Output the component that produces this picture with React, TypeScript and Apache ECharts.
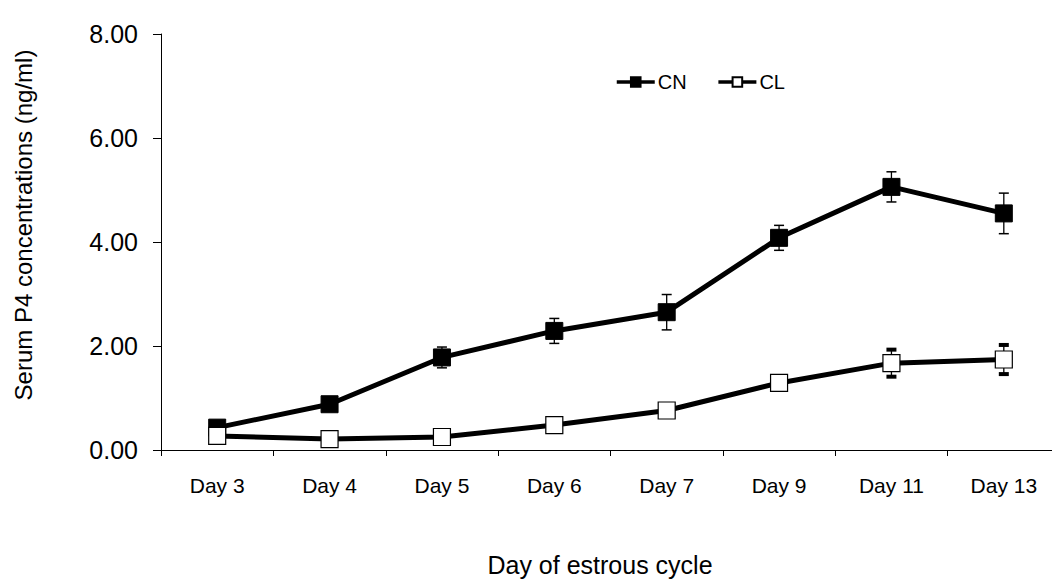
import React, { useEffect, useRef } from "react";
import * as echarts from "echarts";

const categories = ["Day 3", "Day 4", "Day 5", "Day 6", "Day 7", "Day 9", "Day 11", "Day 13"];
const cnMean = [0.43, 0.88, 1.78, 2.29, 2.65, 4.08, 5.06, 4.55];
const cnErr = [0.06, 0.08, 0.2, 0.24, 0.34, 0.24, 0.29, 0.39];
const clMean = [0.27, 0.21, 0.25, 0.48, 0.76, 1.29, 1.67, 1.74];
const clErr = [0.05, 0.05, 0.05, 0.06, 0.06, 0.1, 0.26, 0.28];
const yTicks = [0, 2, 4, 6, 8];

const FONT = "'Liberation Sans', Arial, sans-serif";

function errData(mean: number[], err: number[]) {
  return mean.map((m, i) => [i, m - err[i], m + err[i]]);
}

function makeErrRender(capLw: number) {
  return (params: any, api: any) => {
    const x = api.value(0);
    const lo = api.coord([x, api.value(1)]);
    const hi = api.coord([x, api.value(2)]);
    const hw = 5;
    const style = { stroke: "#000", lineWidth: 1.3 };
    const capStyle = { stroke: "#000", lineWidth: capLw };
    return {
      type: "group",
      children: [
        { type: "line", shape: { x1: lo[0], y1: lo[1], x2: hi[0], y2: hi[1] }, style },
        { type: "line", shape: { x1: lo[0] - hw, y1: lo[1], x2: lo[0] + hw, y2: lo[1] }, style: capStyle },
        { type: "line", shape: { x1: hi[0] - hw, y1: hi[1], x2: hi[0] + hw, y2: hi[1] }, style: capStyle },
      ],
    };
  };
}

export default function App() {
  const ref = useRef<HTMLDivElement>(null);
  useEffect(() => {
    if (!ref.current) return;
    const chart = echarts.init(ref.current, null, { renderer: "svg" });
    chart.setOption({
      animation: false,
      backgroundColor: "#fff",
      textStyle: { fontFamily: FONT },
      grid: { left: 161, top: 34, right: -5, bottom: 138, containLabel: false },
      legend: {
        top: 67,
        left: 610,
        itemWidth: 38,
        itemHeight: 12,
        itemGap: 30,
        lineStyle: { width: 3.5 },
        textStyle: { fontSize: 20, color: "#000", fontFamily: FONT, padding: [0, 0, 0, -2] },
        data: ["CN", "CL"],
      },
      xAxis: {
        type: "category",
        data: categories,
        boundaryGap: true,
        axisLine: { lineStyle: { color: "#000", width: 1 } },
        axisTick: { show: true, length: 6, lineStyle: { color: "#000" } },
        axisLabel: { color: "#000", fontSize: 21, margin: 25, fontFamily: FONT },
        splitLine: { show: false },
      },
      yAxis: {
        type: "value",
        min: yTicks[0],
        max: yTicks[yTicks.length - 1],
        interval: 2,
        axisLine: { show: true, lineStyle: { color: "#000", width: 1 } },
        axisTick: { show: true, length: 8, lineStyle: { color: "#000" } },
        axisLabel: {
          color: "#000",
          fontSize: 25,
          margin: 23,
          fontFamily: FONT,
          formatter: (v: number) => v.toFixed(2),
        },
        splitLine: { show: false },
      },
      graphic: [
        {
          type: "text",
          x: 600,
          y: 565,
          style: {
            text: "Day of estrous cycle",
            fontSize: 25,
            fontFamily: FONT,
            fill: "#000",
            textAlign: "center",
            textVerticalAlign: "middle",
          },
        },
        {
          type: "text",
          x: 23,
          y: 225,
          rotation: Math.PI / 2,
          style: {
            text: "Serum P4 concentrations (ng/ml)",
            fontSize: 24,
            fontFamily: FONT,
            fill: "#000",
            textAlign: "center",
            textVerticalAlign: "middle",
          },
        },
      ],
      series: [
        {
          type: "custom",
          name: "errCN",
          data: errData(cnMean, cnErr),
          renderItem: makeErrRender(1.5),
          z: 1,
          silent: true,
        },
        {
          type: "custom",
          name: "errCL",
          data: errData(clMean, clErr),
          renderItem: makeErrRender(4),
          z: 1,
          silent: true,
        },
        {
          name: "CN",
          type: "line",
          data: cnMean,
          symbol: "rect",
          symbolSize: 17,
          lineStyle: { color: "#000", width: 5 },
          itemStyle: { color: "#000", borderColor: "#000", borderWidth: 1 },
          z: 3,
        },
        {
          name: "CL",
          type: "line",
          data: clMean,
          symbol: "rect",
          symbolSize: 17,
          lineStyle: { color: "#000", width: 5 },
          itemStyle: { color: "#fff", borderColor: "#000", borderWidth: 1.2 },
          z: 3,
        },
      ],
    });
    return () => chart.dispose();
  }, []);
  return <div ref={ref} style={{ width: 1060, height: 588, margin: -8 }} />;
}
